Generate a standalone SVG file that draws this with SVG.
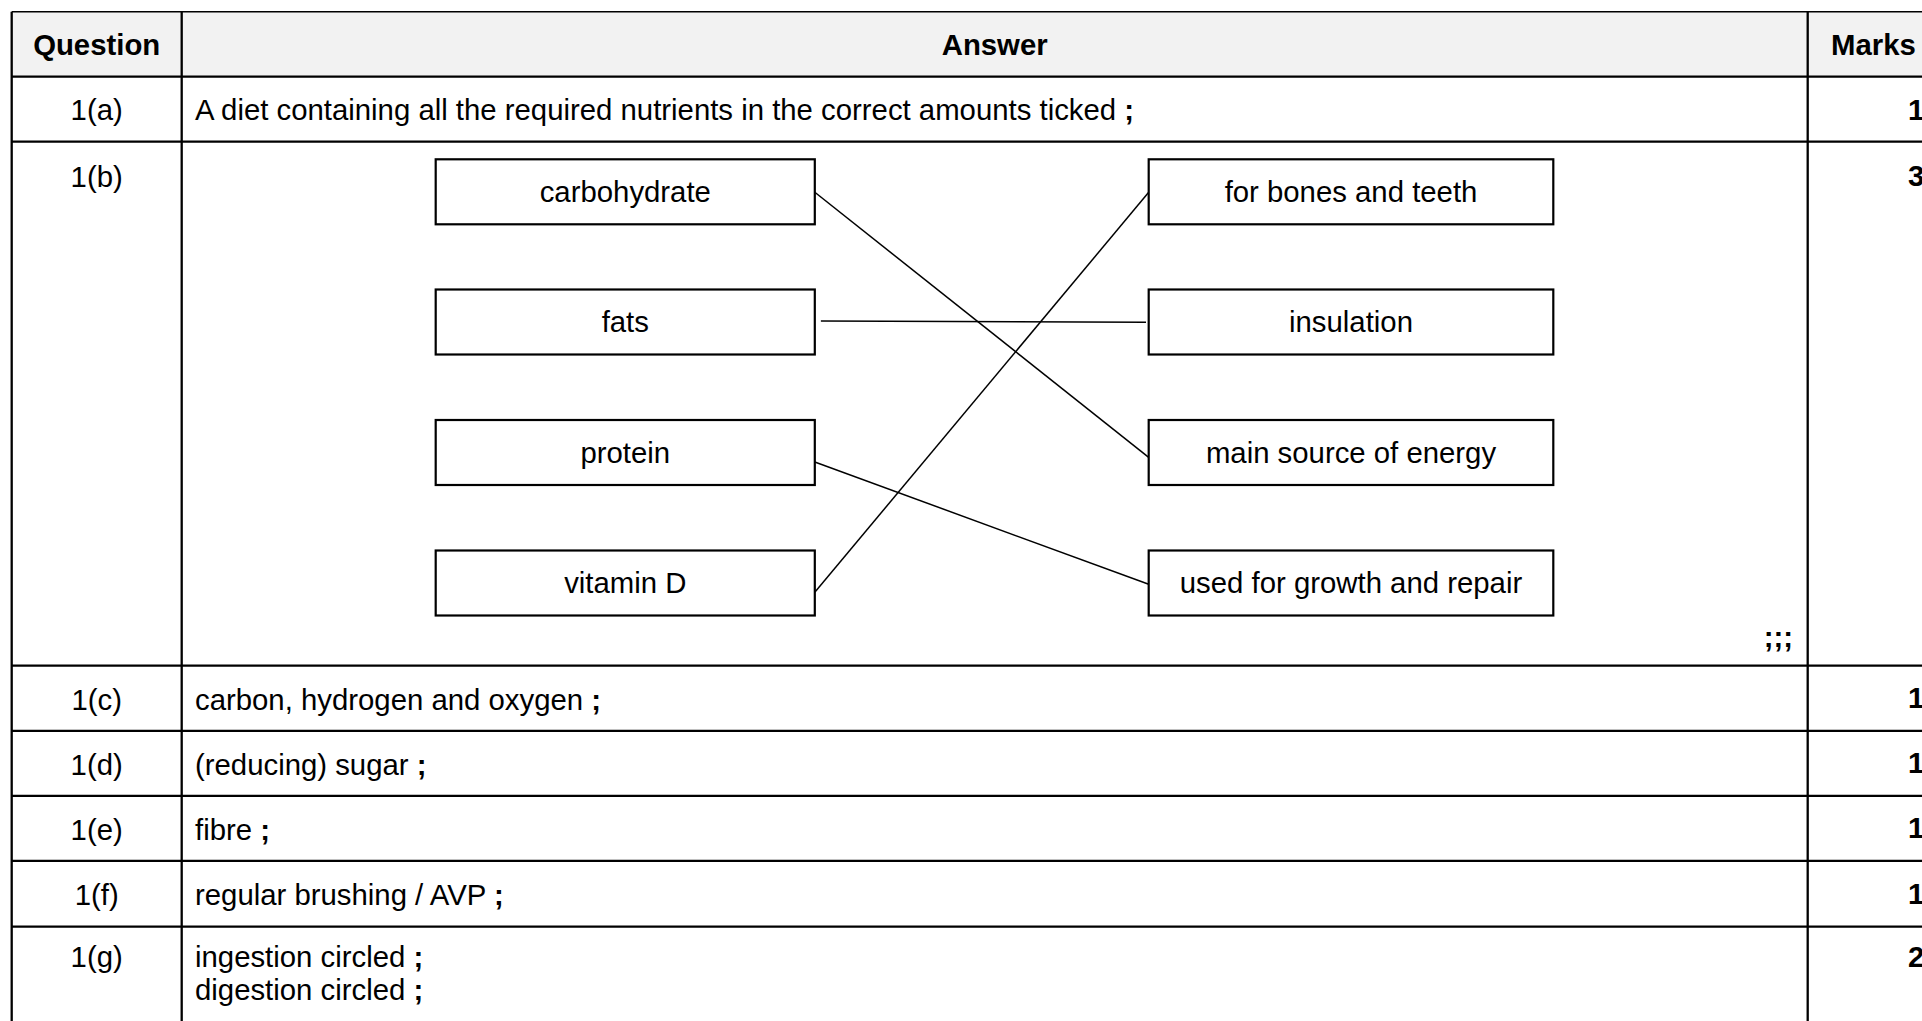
<svg xmlns="http://www.w3.org/2000/svg" width="1922" height="1021" viewBox="0 0 1922 1021">
<style>
text{font-family:"Liberation Sans",Arial,sans-serif;font-size:29.33px;fill:#000}
.b{font-weight:bold}
.c{text-anchor:middle}
.grid{stroke:#000;stroke-width:2.3;fill:none}
.box rect{fill:#fff;stroke:#000;stroke-width:2.2}
.conn line{stroke:#000;stroke-width:1.5}
</style>
<rect x="0" y="0" width="1922" height="1021" fill="#fff"/>
<rect x="11.7" y="11.7" width="1912" height="65" fill="#f2f2f2"/>
<g id="table" class="grid">
<line x1="11.7" y1="11.7" x2="1922" y2="11.7" stroke-width="1.6"/>
<line x1="11.7" y1="76.7" x2="1922" y2="76.7"/>
<line x1="11.7" y1="141.7" x2="1922" y2="141.7"/>
<line x1="11.7" y1="665.7" x2="1922" y2="665.7"/>
<line x1="11.7" y1="730.8" x2="1922" y2="730.8"/>
<line x1="11.7" y1="795.8" x2="1922" y2="795.8"/>
<line x1="11.7" y1="860.8" x2="1922" y2="860.8"/>
<line x1="11.7" y1="926.7" x2="1922" y2="926.7"/>
<line x1="11.7" y1="11.7" x2="11.7" y2="1021"/>
<line x1="181.7" y1="11.7" x2="181.7" y2="1021"/>
<line x1="1807.7" y1="11.7" x2="1807.7" y2="1021"/>
</g>
<g id="header">
<text class="b c" x="96.7" y="55">Question</text>
<text class="b c" x="994.7" y="55">Answer</text>
<text class="b" x="1831" y="55">Marks</text>
</g>
<g id="row-a">
<text class="c" x="96.7" y="120">1(a)</text>
<text x="195" y="120">A diet containing all the required nutrients in the correct amounts ticked <tspan class="b">;</tspan></text>
<text class="b" x="1908" y="120">1</text>
</g>
<g id="row-b">
<text class="c" x="96.7" y="187">1(b)</text>
<text class="b" x="1908" y="186">3</text>
<text class="b" x="1793" y="647" text-anchor="end">;;;</text>
</g>
<g id="conn" class="conn">
<line x1="812" y1="190" x2="1148.7" y2="457.3"/>
<line x1="820.9" y1="321" x2="1146" y2="322.3" stroke-width="2"/>
<line x1="806.6" y1="459" x2="1148.7" y2="584.3"/>
<line x1="814.8" y1="592.3" x2="1148.7" y2="192.3"/>
</g>
<g id="n-carbohydrate" class="box"><rect x="435.7" y="159.3" width="379.1" height="65"/><text class="c" x="625.3" y="201.7">carbohydrate</text></g>
<g id="n-fats" class="box"><rect x="435.7" y="289.5" width="379.1" height="65"/><text class="c" x="625.3" y="332">fats</text></g>
<g id="n-protein" class="box"><rect x="435.7" y="420" width="379.1" height="65"/><text class="c" x="625.3" y="462.5">protein</text></g>
<g id="n-vitamind" class="box"><rect x="435.7" y="550.5" width="379.1" height="65"/><text class="c" x="625.3" y="593">vitamin D</text></g>
<g id="n-bones" class="box"><rect x="1148.7" y="159.3" width="404.6" height="65"/><text class="c" x="1351" y="201.7">for bones and teeth</text></g>
<g id="n-insulation" class="box"><rect x="1148.7" y="289.5" width="404.6" height="65"/><text class="c" x="1351" y="332">insulation</text></g>
<g id="n-energy" class="box"><rect x="1148.7" y="420" width="404.6" height="65"/><text class="c" x="1351" y="462.5">main source of energy</text></g>
<g id="n-growth" class="box"><rect x="1148.7" y="550.5" width="404.6" height="65"/><text class="c" x="1351" y="593">used for growth and repair</text></g>
<g id="row-c">
<text class="c" x="96.7" y="710">1(c)</text>
<text x="195" y="710">carbon, hydrogen and oxygen <tspan class="b">;</tspan></text>
<text class="b" x="1908" y="708">1</text>
</g>
<g id="row-d">
<text class="c" x="96.7" y="775">1(d)</text>
<text x="195" y="775">(reducing) sugar <tspan class="b">;</tspan></text>
<text class="b" x="1908" y="773">1</text>
</g>
<g id="row-e">
<text class="c" x="96.7" y="840">1(e)</text>
<text x="195" y="840">fibre <tspan class="b">;</tspan></text>
<text class="b" x="1908" y="838">1</text>
</g>
<g id="row-f">
<text class="c" x="96.7" y="905">1(f)</text>
<text x="195" y="905">regular brushing / AVP <tspan class="b">;</tspan></text>
<text class="b" x="1908" y="904">1</text>
</g>
<g id="row-g">
<text class="c" x="96.7" y="967">1(g)</text>
<text x="195" y="967">ingestion circled <tspan class="b">;</tspan></text>
<text x="195" y="1000">digestion circled <tspan class="b">;</tspan></text>
<text class="b" x="1908" y="967">2</text>
</g>
</svg>
